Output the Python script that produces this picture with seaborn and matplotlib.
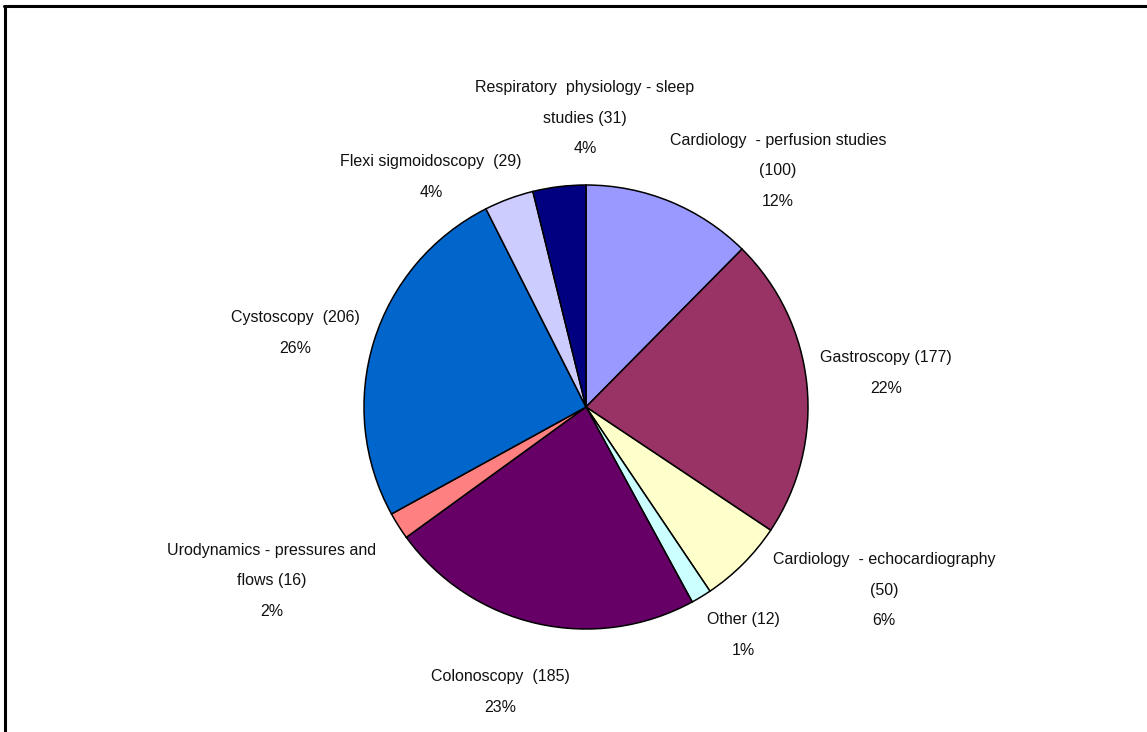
import matplotlib
matplotlib.use("Agg")
import matplotlib.pyplot as plt
import seaborn as sns
from matplotlib.lines import Line2D

# procedure categories, clockwise from 12 o'clock
categories = [
    "Cardiology - perfusion studies",
    "Gastroscopy",
    "Cardiology - echocardiography",
    "Other",
    "Colonoscopy",
    "Urodynamics - pressures and flows",
    "Cystoscopy",
    "Flexi sigmoidoscopy",
    "Respiratory physiology - sleep studies",
]
counts = [100, 177, 50, 12, 185, 16, 206, 29, 31]
label_texts = [
    "Cardiology  - perfusion studies\n(100)\n12%",
    "Gastroscopy (177)\n22%",
    "Cardiology  - echocardiography\n(50)\n6%",
    "Other (12)\n1%",
    "Colonoscopy  (185)\n23%",
    "Urodynamics - pressures and\nflows (16)\n2%",
    "Cystoscopy  (206)\n26%",
    "Flexi sigmoidoscopy  (29)\n4%",
    "Respiratory  physiology - sleep\nstudies (31)\n4%",
]
colors = ["#9999FF", "#993366", "#FFFFCC", "#CCFFFF", "#660066",
          "#FF8080", "#0066CC", "#CCCCFF", "#000080"]

# label block centres in pixels (x, y from top)
label_pos = [(778, 171), (886, 373), (884, 590), (743, 635), (500, 692),
             (272, 581), (295, 333), (431, 177), (585, 118)]

W, H = 1147, 732
sns.set_style("white")
plt.rcParams["font.family"] = ["Liberation Sans", "DejaVu Sans"]

fig = plt.figure(figsize=(W / 100, H / 100), dpi=100)
ax = fig.add_axes([0, 0, 1, 1])

ax.pie(counts, colors=colors, startangle=90, counterclock=False,
       center=(586, H - 407), radius=222,
       wedgeprops=dict(edgecolor="black", linewidth=1.1))
ax.set_xlim(0, W)
ax.set_ylim(0, H)
ax.set_aspect("equal")
ax.axis("off")

for txt, (px, py) in zip(label_texts, label_pos):
    ax.text(px, H - py, txt, ha="center", va="center", fontsize=11.5,
            color="#111111", linespacing=2.3)

# frame of the figure box (top and left edges visible)
fig.add_artist(Line2D([4 / W, 1.0], [1 - 6 / H, 1 - 6 / H],
                      color="black", linewidth=2.2, transform=fig.transFigure))
fig.add_artist(Line2D([5 / W, 5 / W], [1 - 6 / H, 0.0],
                      color="black", linewidth=2.2, transform=fig.transFigure))

fig.savefig("out.png", dpi=100)
